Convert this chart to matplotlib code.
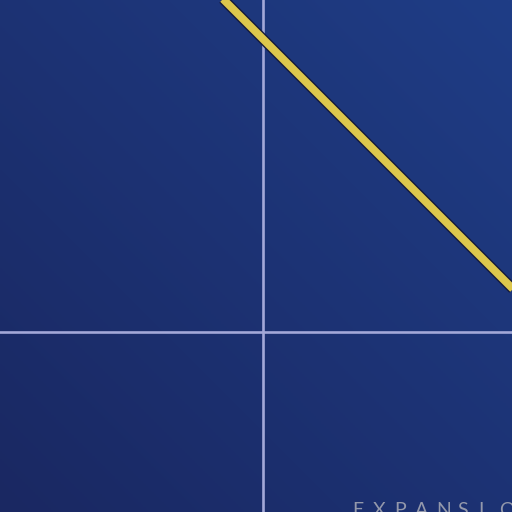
import numpy as np
import matplotlib
matplotlib.use("Agg")
import matplotlib.pyplot as plt
import matplotlib.patheffects as pe
from matplotlib.colors import LinearSegmentedColormap

# trend line (data units, quadrant axes cross at 0,0)
line_x = [-0.5, 2.6]
line_y = [3.43, 0.33]
label_text = "EXPANSION"

fig = plt.figure(figsize=(5.12, 5.12), dpi=100)
ax = fig.add_axes([0, 0, 1, 1])
xlim = (-2.63, 2.49)
ylim = (-1.80, 3.32)

# diagonal gradient background
gx, gy = np.meshgrid(np.linspace(0, 1, 200), np.linspace(0, 1, 200))
grad = (gx + gy) / 2
cmap = LinearSegmentedColormap.from_list("bg", ["#1a2862", "#1f3d86"])
ax.imshow(grad, cmap=cmap, origin="lower", aspect="auto",
          extent=[xlim[0], xlim[1], ylim[0], ylim[1]], zorder=0)

ax.axvline(0, color="#a3a8d8", lw=1.9, zorder=1)
ax.axhline(0, color="#a3a8d8", lw=1.9, zorder=1)

ax.plot(line_x, line_y, color="#dcc64c", lw=5.6, solid_capstyle="butt", zorder=3,
        path_effects=[pe.Stroke(linewidth=7.6, foreground="#14193a"), pe.Normal()])

# letter-spaced label, partly off the edge like the original
for i, ch in enumerate(label_text):
    ax.text(0.89 + i * 0.21, -1.70, ch, color="#9398ab", fontsize=14,
            fontfamily="Lato", va="top", ha="left", zorder=4)

ax.set_xlim(xlim)
ax.set_ylim(ylim)
ax.axis("off")
fig.savefig("out.png", dpi=100)
